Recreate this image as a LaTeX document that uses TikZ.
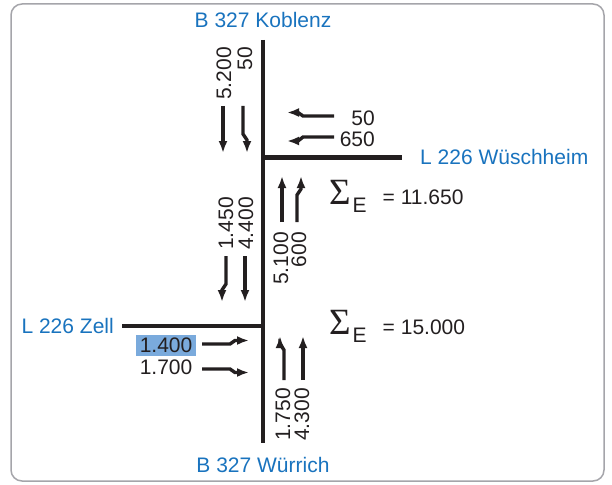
\documentclass[tikz,border=0pt]{standalone}
\usepackage{fontspec}
\setmainfont{Liberation Sans}
\newfontfamily\sigfont{Liberation Serif}
\usetikzlibrary{arrows.meta}
\definecolor{roadblue}{RGB}{25,115,190}
\definecolor{ink}{RGB}{35,31,32}
\definecolor{hilite}{RGB}{122,170,220}
\definecolor{framegray}{RGB}{165,165,170}
\newcommand{\sumsym}{{\sigfont\fontsize{37}{37}\selectfont Σ}\hspace{2pt}\raisebox{-8pt}{E}\hspace{16pt}}
\begin{document}
\begin{tikzpicture}[x=1pt,y=-1pt,
  txt/.style={inner sep=0pt,text=ink,font=\fontsize{21}{25}\selectfont},
  rtxt/.style={txt,rotate=90,anchor=east},
  place/.style={inner sep=0pt,text=roadblue,font=\fontsize{21}{25}\selectfont},
  road/.style={line width=4.5pt,draw=ink},
  flow/.style={line width=3.4pt,draw=ink,-{Latex[length=12pt,width=9pt]}},
  sumlbl/.style={inner sep=0pt,text=ink,font=\fontsize{21}{25}\selectfont,anchor=west}]
\useasboundingbox (0,0) rectangle (612,484);
\draw[framegray,line width=1.5pt,rounded corners=11pt] (11,4) rectangle (604,481);
% roads
\coordinate (north) at (263,40);
\coordinate (south) at (263,443);
\coordinate (jn) at (263,157.5);
\coordinate (js) at (263,326);
\coordinate (east) at (402,157.5);
\coordinate (west) at (122,326);
\draw[road] (north) -- (south);
\draw[road] (jn) -- (east);
\draw[road] (west) -- (js);
% place names
\node[place] (koblenz) at (263,20) {B 327 Koblenz};
\node[place,anchor=west] (wusch) at (420,157) {L 226 Wüschheim};
\node[place,anchor=east] (zell) at (114,326) {L 226 Zell};
\node[place] (wurrich) at (263,465) {B 327 Würrich};
% southbound upper
\node[rtxt] (t5200) at (224,47) {5.200};
\node[rtxt] (t50a) at (245,47) {50};
\draw[flow] (223,106) -- (223,153);
\draw[flow] (243,106) -- (243,134) -- (247,140) -- (247,153);
% westbound upper
\node[txt,anchor=east] (t50b) at (375,118) {50};
\node[txt,anchor=east] (t650) at (375,139) {650};
\draw[flow] (334,116) -- (303,116) -- (298,112.5) -- (287,112.5);
\draw[flow] (334,137) -- (303,137) -- (298,141) -- (287,141);
% sums
\node[sumlbl] (s1) at (329,196) {\sumsym= 11.650};
\node[sumlbl] (s2) at (329,326) {\sumsym= 15.000};
% southbound middle
\node[rtxt] (t1450) at (226,197) {1.450};
\node[rtxt] (t4400) at (246,197) {4.400};
\draw[flow] (226,256) -- (226,284) -- (222,290) -- (222,302);
\draw[flow] (245,256) -- (245,302);
% northbound middle
\node[rtxt] (t5100) at (281,232) {5.100};
\node[rtxt] (t600) at (299,232) {600};
\draw[flow] (282,222) -- (282,176);
\draw[flow] (297,222) -- (297,195) -- (301,189) -- (301,176);
% eastbound lower
\node[txt,anchor=east,fill=hilite,inner xsep=4pt,inner ysep=3.5pt] (t1400) at (196.5,345.5) {1.400};
\node[txt,anchor=east] (t1700) at (192.5,367) {1.700};
\draw[flow] (202,344) -- (230,344) -- (235,340.5) -- (249,340.5);
\draw[flow] (202,369) -- (230,369) -- (235,372.5) -- (249,372.5);
% northbound lower
\draw[flow] (284,380) -- (284,350) -- (280,344) -- (280,336);
\draw[flow] (303,380) -- (303,336);
\node[rtxt] (t1750) at (283,388) {1.750};
\node[rtxt] (t4300) at (302,388) {4.300};
\end{tikzpicture}
\end{document}
